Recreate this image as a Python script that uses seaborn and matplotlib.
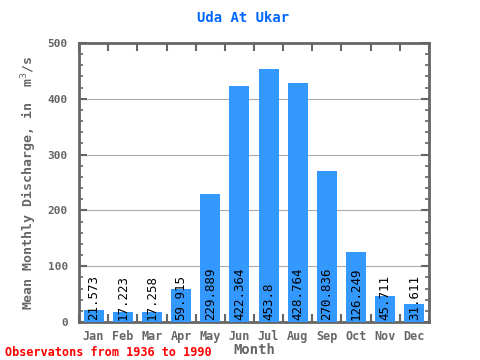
import matplotlib
matplotlib.use('Agg')
import matplotlib.pyplot as plt
import seaborn as sns
import pandas as pd
import numpy as np
from matplotlib.ticker import MultipleLocator

months = ['Jan', 'Feb', 'Mar', 'Apr', 'May', 'Jun', 'Jul', 'Aug', 'Sep', 'Oct', 'Nov', 'Dec']
discharge = [21.573, 17.223, 17.258, 59.915, 229.889, 422.364, 453.8, 428.764, 270.836, 126.249, 45.711, 31.611]

df = pd.DataFrame({'month': months, 'discharge': discharge})

sns.set_style('white')
plt.rcParams['font.family'] = ['DejaVu Sans Mono']
gray = '#666666'

fig = plt.figure(figsize=(4.8, 3.6), dpi=100)
ax = fig.add_axes([79/480, 1-322/360, 350/480, 279/360])

sns.barplot(data=df, x='month', y='discharge', color='#3399ff', saturation=1, width=0.69,
            linewidth=0, ax=ax, zorder=3)

ax.set_ylim(0, 500)
ax.set_xlim(-0.5, 11.5)
ax.yaxis.set_major_locator(MultipleLocator(100))
ax.yaxis.set_minor_locator(MultipleLocator(20))
ax.grid(axis='y', color='#aaaaaa', linewidth=0.8, zorder=0)

# values written up the bars
for i, v in enumerate(discharge):
    ax.text(i, 3, f'{v:g}', rotation=90, ha='center', va='bottom', fontsize=9, color='black', zorder=4)

for s in ax.spines.values():
    s.set_color(gray)
    s.set_linewidth(2)

ax.tick_params(axis='y', which='both', direction='in', left=True, right=True, colors=gray, labelsize=8, pad=8)
ax.tick_params(axis='y', which='major', length=6, width=1.5)
ax.tick_params(axis='y', which='minor', length=3, width=1.2)
ax.set_xticks(np.arange(12))
ax.set_xticklabels(months)
ax.set_xticks(np.arange(-0.5, 12, 1), minor=True)
ax.tick_params(axis='x', which='major', length=0, colors=gray, labelsize=8.5, pad=6)
ax.tick_params(axis='x', which='minor', direction='in', top=True, bottom=True, length=6, width=1.5, colors=gray)
for lab in ax.get_xticklabels() + ax.get_yticklabels():
    lab.set_fontweight('bold')

ax.set_xlabel('Month', color=gray, fontsize=10, fontweight='bold', labelpad=0)
ax.set_ylabel('Mean Monthly Discharge, in  m$^{3}$/s', color=gray, fontsize=9.5, fontweight='bold', labelpad=6)
fig.text(243/480, 1-18/360, 'Uda At Ukar', color='#0066ff', fontsize=10, fontweight='bold', ha='center', va='center')
fig.text(5/480, 1-352/360, 'Observatons from 1936 to 1990', color='red', fontsize=8.5, fontweight='bold', ha='left', va='center')

fig.savefig('out.png', dpi=100)
